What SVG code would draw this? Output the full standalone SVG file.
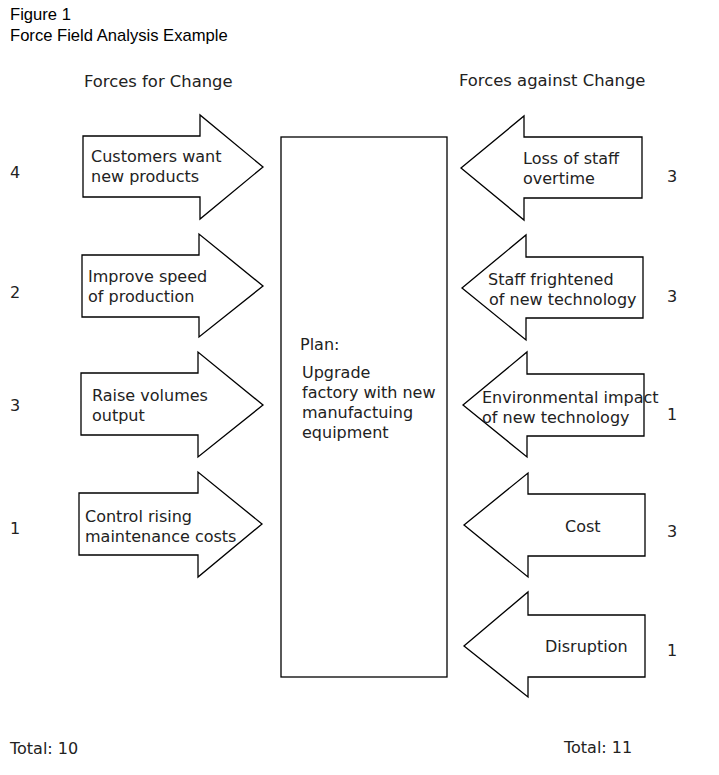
<svg xmlns="http://www.w3.org/2000/svg" width="719" height="775" viewBox="0 0 719 775">
<style>
.t{font-family:"Liberation Sans",Arial,sans-serif;font-size:16.6px;fill:#000}
.g{font-family:"DejaVu Sans","Liberation Sans",sans-serif;font-size:16px;fill:#222}
.h{font-size:16.4px}
.a{fill:#fff;stroke:#000;stroke-width:1.3;stroke-linejoin:miter}
</style>
<rect width="719" height="775" fill="#fff"/>
<text class="t" x="10" y="20">Figure 1</text>
<text class="t" x="10" y="41">Force Field Analysis Example</text>
<text class="g h" x="84" y="87">Forces for Change</text>
<text class="g h" x="459" y="86">Forces against Change</text>

<g id="plan">
<rect class="a" x="281" y="137" width="166" height="540"/>
<text class="g" x="300" y="350">Plan:</text>
<text class="g" x="302" y="378">Upgrade</text>
<text class="g" x="302" y="398">factory with new</text>
<text class="g" x="302" y="418">manufactuing</text>
<text class="g" x="302" y="438">equipment</text>
</g>

<g id="for1">
<path class="a" d="M83,136 H200 V115 L263,167 L200,219 V197 H83 Z"/>
<text class="g" x="91" y="162">Customers want</text>
<text class="g" x="91" y="182">new products</text>
<text class="g" x="10" y="178">4</text>
</g>
<g id="for2">
<path class="a" d="M82,255 H199 V234 L263,286 L199,337 V317 H82 Z"/>
<text class="g" x="88" y="282">Improve speed</text>
<text class="g" x="88" y="302">of production</text>
<text class="g" x="10" y="298">2</text>
</g>
<g id="for3">
<path class="a" d="M81,373 H198 V352 L263,405 L198,457 V435 H81 Z"/>
<text class="g" x="92" y="401">Raise volumes</text>
<text class="g" x="92" y="421">output</text>
<text class="g" x="10" y="411">3</text>
</g>
<g id="for4">
<path class="a" d="M79,493 H198 V472 L262,524 L198,577 V555 H79 Z"/>
<text class="g" x="85" y="522">Control rising</text>
<text class="g" x="85" y="542">maintenance costs</text>
<text class="g" x="10" y="534">1</text>
</g>

<g id="against1">
<path class="a" d="M642,137 H524 V116 L461,168 L524,220 V198 H642 Z"/>
<text class="g" x="523" y="164">Loss of staff</text>
<text class="g" x="523" y="184">overtime</text>
<text class="g" x="667" y="182">3</text>
</g>
<g id="against2">
<path class="a" d="M643,257 H526 V235 L462,288 L526,340 V318 H643 Z"/>
<text class="g" x="488" y="285">Staff frightened</text>
<text class="g" x="489" y="305">of new technology</text>
<text class="g" x="667" y="302">3</text>
</g>
<g id="against3">
<path class="a" d="M644,374 H527 V352 L463,405 L527,457 V436 H644 Z"/>
<text class="g" x="482" y="403">Environmental impact</text>
<text class="g" x="482" y="423">of new technology</text>
<text class="g" x="667" y="420">1</text>
</g>
<g id="against4">
<path class="a" d="M645,494 H528 V473 L464,525 L528,577 V556 H645 Z"/>
<text class="g" x="565" y="532">Cost</text>
<text class="g" x="667" y="537">3</text>
</g>
<g id="against5">
<path class="a" d="M645,615 H528 V592 L464,646 L528,697 V677 H645 Z"/>
<text class="g" x="545" y="652">Disruption</text>
<text class="g" x="667" y="656">1</text>
</g>

<text class="g" x="10" y="754">Total: 10</text>
<text class="g" x="564" y="753">Total: 11</text>
</svg>
